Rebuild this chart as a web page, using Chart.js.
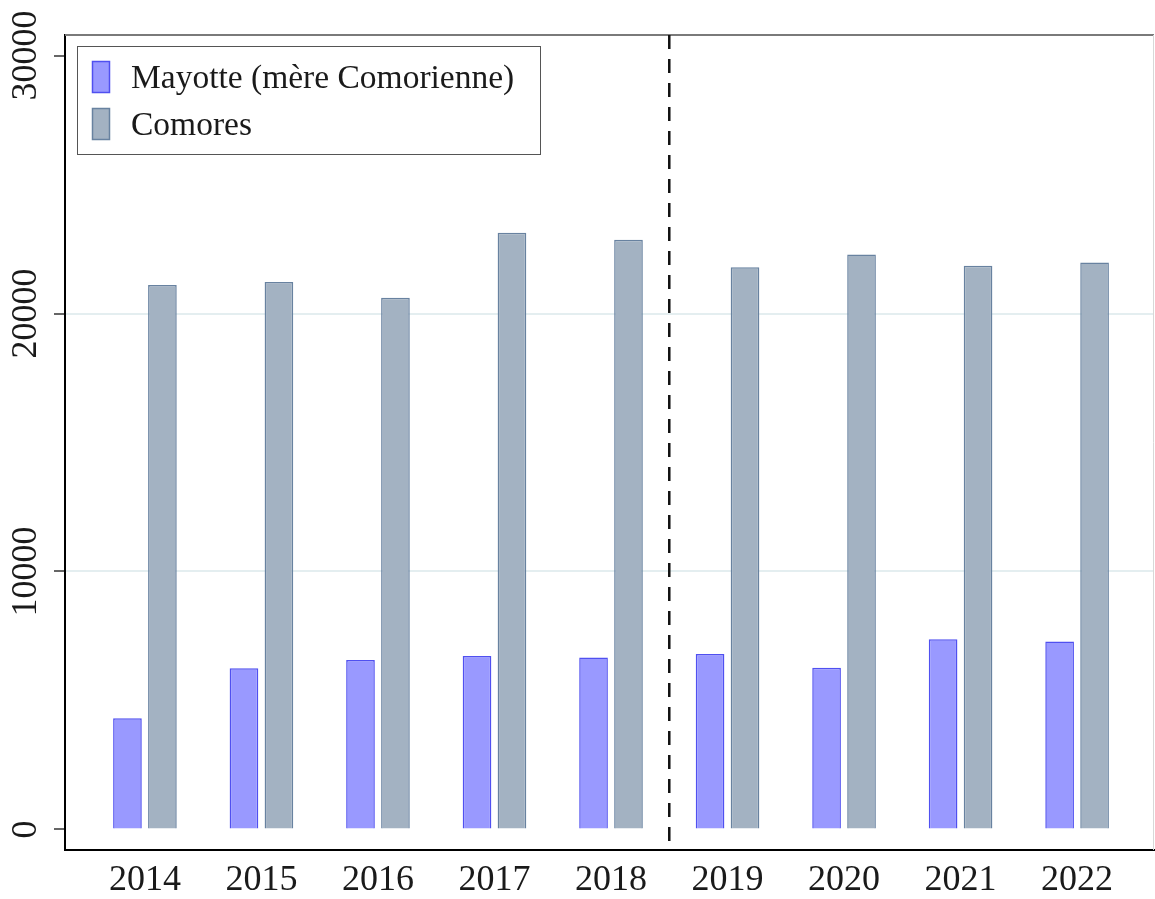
<!DOCTYPE html>
<html>
<head>
<meta charset="utf-8">
<script src="https://cdn.jsdelivr.net/npm/chart.js@4"></script>
<style>
  html, body { margin: 0; padding: 0; background: #fff; }
  canvas { display: block; }
</style>
</head>
<body>
<canvas id="c" width="1155" height="899"></canvas>
<script>
const years = [2014, 2015, 2016, 2017, 2018, 2019, 2020, 2021, 2022];
const mayotte = [4310, 6250, 6570, 6720, 6670, 6800, 6270, 7370, 7290];
const comores = [21100, 21220, 20610, 23130, 22860, 21790, 22290, 21850, 21980];
const yTicks = [0, 10000, 20000, 30000];
const gridValues = [10000, 20000];
const seriesLabels = ['Mayotte (mère Comorienne)', 'Comores'];
const breakYear = 2018.5;

const SERIF = '"Liberation Serif", "DejaVu Serif", serif';
const TEXT = '#1a1a1a';

const overlay = {
  id: 'overlay',
  afterDraw(chart) {
    const { ctx, chartArea: a, scales } = chart;
    ctx.save();
    // top & right frame
    ctx.strokeStyle = '#7a7a7a';
    ctx.lineWidth = 2;
    ctx.beginPath();
    ctx.moveTo(a.left, a.top);
    ctx.lineTo(a.right, a.top);
    ctx.stroke();
    ctx.strokeStyle = '#d8d8d8';
    ctx.lineWidth = 1;
    ctx.beginPath();
    ctx.moveTo(a.right - 0.5, a.top);
    ctx.lineTo(a.right - 0.5, a.bottom);
    ctx.stroke();

    // dashed break line
    const xb = scales.x.getPixelForValue(breakYear);
    ctx.strokeStyle = '#111';
    ctx.lineWidth = 2.5;
    ctx.setLineDash([14, 10]);
    ctx.beginPath();
    ctx.moveTo(xb, a.top);
    ctx.lineTo(xb, a.bottom);
    ctx.stroke();
    ctx.setLineDash([]);

    // y tick labels, rotated
    ctx.fillStyle = TEXT;
    ctx.font = '36px ' + SERIF;
    ctx.textAlign = 'center';
    ctx.textBaseline = 'middle';
    scales.y.ticks.forEach(t => {
      const y = scales.y.getPixelForValue(t.value);
      ctx.save();
      ctx.translate(27, y);
      ctx.rotate(-Math.PI / 2);
      ctx.fillText(String(t.value), 0, 0);
      ctx.restore();
    });

    // legend
    const bx = 77.5, by = 46.5, bw = 463, bh = 108;
    ctx.fillStyle = '#fff';
    ctx.fillRect(bx, by, bw, bh);
    ctx.strokeStyle = '#555';
    ctx.lineWidth = 1;
    ctx.strokeRect(bx, by, bw, bh);
    const rows = [77, 124];
    chart.data.datasets.forEach((ds, i) => {
      const cy = rows[i];
      ctx.fillStyle = ds.backgroundColor;
      ctx.fillRect(92, cy - 16, 18, 32);
      ctx.strokeStyle = ds.borderColor;
      ctx.lineWidth = 1.5;
      ctx.strokeRect(92.5, cy - 15.5, 17, 31);
      ctx.fillStyle = TEXT;
      ctx.font = '33.5px ' + SERIF;
      ctx.textAlign = 'left';
      ctx.textBaseline = 'middle';
      ctx.fillText(ds.label, 131, cy + 2);
    });
    ctx.restore();
  }
};

new Chart(document.getElementById('c'), {
  type: 'bar',
  data: {
    datasets: [
      {
        label: seriesLabels[0],
        data: mayotte.map((v, i) => ({ x: years[i], y: v })),
        backgroundColor: 'rgb(153,153,255)',
        borderColor: 'rgb(80,80,240)',
        borderWidth: 1.5
      },
      {
        label: seriesLabels[1],
        data: comores.map((v, i) => ({ x: years[i], y: v })),
        backgroundColor: 'rgb(163,178,194)',
        borderColor: 'rgb(104,130,160)',
        borderWidth: 1.5
      }
    ]
  },
  options: {
    responsive: false,
    animation: false,
    devicePixelRatio: 1,
    categoryPercentage: 0.6,
    barPercentage: 0.82,
    layout: { padding: { top: 35, right: 1, left: 0, bottom: 0 } },
    plugins: { legend: { display: false }, tooltip: { enabled: false } },
    scales: {
      x: {
        type: 'linear',
        offset: false,
        min: 2013.314,
        max: 2022.66,
        afterBuildTicks: s => { s.ticks = years.map(v => ({ value: v })); },
        afterFit: s => { s.height = 49; },
        grid: { display: false, drawTicks: false },
        border: { display: true, color: '#000', width: 2 },
        ticks: {
          padding: 9,
          color: TEXT,
          font: { family: SERIF, size: 36 },
          maxRotation: 0,
          autoSkip: false,
          callback: v => String(v)
        }
      },
      y: {
        type: 'linear',
        min: -795,
        max: 30795,
        afterBuildTicks: s => { s.ticks = yTicks.map(v => ({ value: v })); },
        afterFit: s => { s.width = 65; },
        grid: {
          color: c => (c.tick && gridValues.includes(c.tick.value)) ? 'rgb(228,238,240)' : 'rgba(0,0,0,0)',
          lineWidth: 2,
          drawTicks: true,
          tickLength: 11,
          tickColor: '#666',
          tickWidth: 2
        },
        border: { display: true, color: '#000', width: 2 },
        ticks: { display: false }
      }
    }
  },
  plugins: [overlay]
});
</script>
</body>
</html>
